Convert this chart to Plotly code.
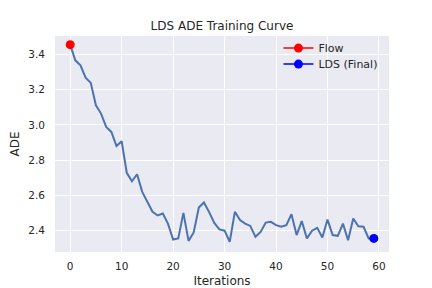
import plotly.graph_objects as go

iterations = list(range(60))
ade = [3.455, 3.366, 3.338, 3.268, 3.238, 3.111, 3.064, 2.988, 2.960, 2.880,
       2.907, 2.728, 2.680, 2.720, 2.620, 2.563, 2.507, 2.486, 2.497, 2.440,
       2.350, 2.356, 2.501, 2.342, 2.390, 2.531, 2.560, 2.505, 2.444, 2.407,
       2.400, 2.337, 2.507, 2.460, 2.440, 2.427, 2.365, 2.393, 2.446, 2.450,
       2.431, 2.422, 2.431, 2.493, 2.375, 2.454, 2.356, 2.400, 2.416, 2.361,
       2.463, 2.375, 2.371, 2.440, 2.346, 2.469, 2.425, 2.422, 2.356, 2.356]
flow_iter = [0]
flow_ade = [ade[0]]
lds_final_iter = [59]
lds_final_ade = [ade[-1]]
x_ticks = [0, 10, 20, 30, 40, 50, 60]
y_ticks = [2.4, 2.6, 2.8, 3.0, 3.2, 3.4]

FONT = "DejaVu Sans"
TXT = "#262626"
W, H = 424, 280  # page body has an 8px margin

fig = go.Figure()
fig.add_trace(go.Scatter(x=iterations, y=ade, mode="lines",
                         line=dict(color="#4C72B0", width=2),
                         showlegend=False, hoverinfo="skip"))
fig.add_trace(go.Scatter(x=flow_iter, y=flow_ade, mode="lines+markers", name="Flow",
                         line=dict(color="red", width=1.5),
                         marker=dict(color="red", size=9), legend="legend"))
fig.add_trace(go.Scatter(x=lds_final_iter, y=lds_final_ade, mode="lines+markers",
                         name="LDS (Final)",
                         line=dict(color="blue", width=1.5),
                         marker=dict(color="blue", size=9), legend="legend2"))

leg_common = dict(xanchor="left", yanchor="middle",
                  bgcolor="rgba(0,0,0,0)", borderwidth=0,
                  font=dict(size=11, family=FONT, color=TXT),
                  itemwidth=30)

fig.update_layout(
    width=W, height=H,
    margin=dict(l=47, r=43, t=28, b=36, pad=0, autoexpand=False),
    paper_bgcolor="white", plot_bgcolor="#EAEAF2",
    font=dict(family=FONT, color=TXT, size=10),
    title=dict(text="LDS ADE Training Curve", x=0.5, xref="paper",
               y=1 - 18 / H, yref="container", yanchor="middle",
               xanchor="center", font=dict(size=12, color=TXT, family=FONT)),
    showlegend=True,
    legend=dict(x=0.669, y=0.944, **leg_common),
    legend2=dict(x=0.669, y=0.870, **leg_common),
)
fig.update_xaxes(range=[-2.95, 61.95], tickvals=x_ticks, showgrid=True,
                 gridcolor="white", gridwidth=1, zeroline=False, showline=False,
                 ticks="", tickfont=dict(size=10.5), automargin=False,
                 ticklabelstandoff=6,
                 title=dict(text="Iterations", font=dict(size=12), standoff=6))
fig.update_yaxes(range=[2.279, 3.504], tickvals=y_ticks, tickformat=".1f",
                 showgrid=True, gridcolor="white", gridwidth=1, zeroline=False,
                 showline=False, ticks="", tickfont=dict(size=10.5), automargin=False,
                 ticklabelstandoff=9,
                 title=dict(text="ADE", font=dict(size=12), standoff=8))

fig.write_html("out.html")
